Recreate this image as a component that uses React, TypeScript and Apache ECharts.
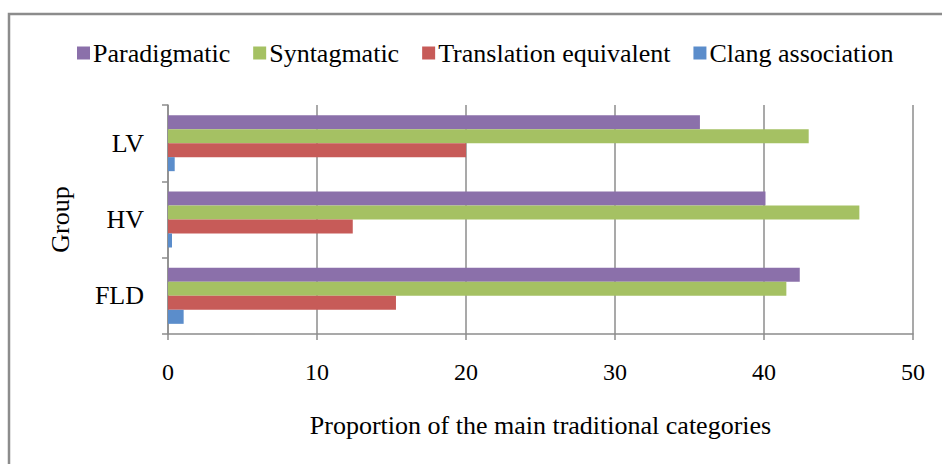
import React, { useEffect, useRef } from "react";
import * as echarts from "echarts";

const categories = ["FLD", "HV", "LV"];
const paradigmatic = [42.4, 40.1, 35.7];
const syntagmatic = [41.5, 46.4, 43.0];
const translationEquivalent = [15.3, 12.4, 20.0];
const clangAssociation = [1.05, 0.27, 0.45];
const xTicks = [0, 10, 20, 30, 40, 50];

const FONT = "'Liberation Serif', 'Times New Roman', serif";
const GRAY = "#8c8c8c";

export default function App() {
  const ref = useRef<HTMLDivElement>(null);
  useEffect(() => {
    if (!ref.current) return;
    const chart = echarts.init(ref.current, null, { renderer: "svg" });
    const bar = (name: string, data: number[], color: string) => ({
      name,
      type: "bar",
      data,
      barWidth: 14,
      barGap: "0%",
      itemStyle: { color },
    });
    chart.setOption({
      animation: false,
      backgroundColor: "#ffffff",
      textStyle: { fontFamily: FONT, color: "#000" },
      graphic: [
        {
          type: "rect",
          shape: { x: 9, y: 14, width: 960, height: 480 },
          style: { fill: "none", stroke: GRAY, lineWidth: 2.5 },
          silent: true,
        },
      ],
      legend: {
        top: 35,
        left: 72,
        icon: "rect",
        itemWidth: 13,
        itemHeight: 13,
        itemGap: 23,
        data: ["Paradigmatic", "Syntagmatic", "Translation equivalent", "Clang association"],
        textStyle: { fontFamily: FONT, fontSize: 26, color: "#000", padding: [0, 0, 0, -2] },
      },
      grid: { left: 168, right: 29, top: 105, bottom: 130, containLabel: false },
      xAxis: {
        type: "value",
        min: xTicks[0],
        max: xTicks[xTicks.length - 1],
        interval: 10,
        name: "Proportion of the main traditional categories",
        nameLocation: "middle",
        nameGap: 78,
        nameTextStyle: { fontFamily: FONT, fontSize: 26, color: "#000" },
        axisLine: { show: true, lineStyle: { color: GRAY, width: 1.5 } },
        axisTick: { show: true, length: 6, lineStyle: { color: GRAY, width: 1.5 } },
        axisLabel: { fontFamily: FONT, fontSize: 24, color: "#000", margin: 26 },
        splitLine: { show: true, lineStyle: { color: GRAY, width: 1.5 } },
      },
      yAxis: {
        type: "category",
        data: categories,
        name: "Group",
        nameLocation: "middle",
        nameGap: 95,
        nameRotate: 90,
        nameTextStyle: { fontFamily: FONT, fontSize: 26, color: "#000" },
        axisLine: { show: true, lineStyle: { color: GRAY, width: 1.5 } },
        axisTick: { show: true, length: 6, lineStyle: { color: GRAY, width: 1.5 } },
        axisLabel: { fontFamily: FONT, fontSize: 26, color: "#000", margin: 24 },
        splitLine: { show: false },
      },
      series: [
        bar("Paradigmatic", paradigmatic, "#8b70aa"),
        bar("Syntagmatic", syntagmatic, "#a5c163"),
        bar("Translation equivalent", translationEquivalent, "#c75b58"),
        bar("Clang association", clangAssociation, "#5b8dcb"),
      ],
    });
    return () => chart.dispose();
  }, []);
  return (
    <div
      ref={ref}
      style={{ position: "fixed", left: 0, top: 0, width: 942, height: 464, background: "#fff" }}
    />
  );
}
